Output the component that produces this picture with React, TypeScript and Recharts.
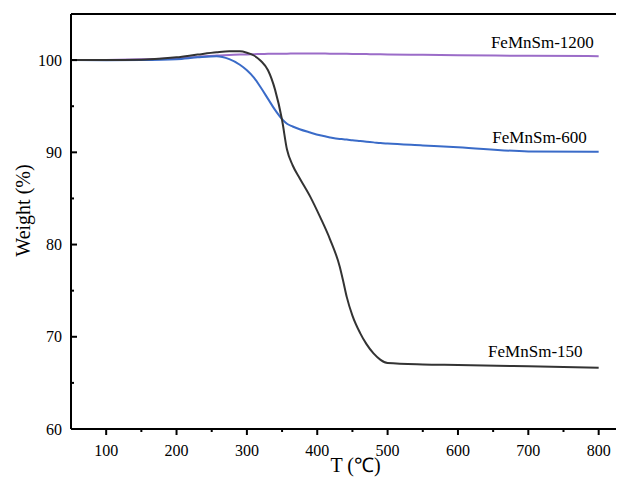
import React from 'react';
import { LineChart, Line, XAxis, YAxis, ReferenceLine, ReferenceDot } from 'recharts';

const temps = [50, 100, 150, 200, 230, 257, 275, 290, 300, 310, 320, 330, 340, 350, 357, 365, 375, 390, 404, 418, 432, 437, 442, 450, 461, 470, 480, 490, 500, 550, 600, 700, 800];
const fe150 = [100.0, 100.0, 100.05, 100.3, 100.6, 100.85, 100.95, 100.95, 100.8, 100.5, 99.9, 98.9, 96.8, 93.5, 90.3, 88.6, 87.2, 85.2, 83.0, 80.6, 77.6, 76.0, 74.3, 72.3, 70.4, 69.2, 68.2, 67.5, 67.15, 67.0, 66.95, 66.8, 66.65];
const fe600 = [100.0, 99.98, 100.0, 100.1, 100.3, 100.42, 100.1, 99.5, 98.9, 98.1, 97.0, 95.8, 94.6, 93.6, 93.1, 92.8, 92.5, 92.15, 91.85, 91.62, 91.45, 91.42, 91.38, 91.3, 91.22, 91.15, 91.08, 91.0, 90.95, 90.75, 90.55, 90.1, 90.05];
const fe1200 = [100.0, 100.02, 100.08, 100.2, 100.35, 100.5, 100.55, 100.6, 100.62, 100.64, 100.66, 100.68, 100.7, 100.7, 100.7, 100.71, 100.72, 100.72, 100.71, 100.7, 100.69, 100.69, 100.68, 100.67, 100.66, 100.65, 100.64, 100.63, 100.62, 100.58, 100.54, 100.46, 100.43];

const xTicks = [100, 150, 200, 250, 300, 350, 400, 450, 500, 550, 600, 650, 700, 750, 800];
const yTicks = [60, 65, 70, 75, 80, 85, 90, 95, 100];

const seriesLabels = [
  { name: 'FeMnSm-1200', t: 720, w: 101.95 },
  { name: 'FeMnSm-600', t: 716, w: 91.66 },
  { name: 'FeMnSm-150', t: 710, w: 68.4 },
];

const data = temps.map((t, i) => ({ t, a: fe150[i], b: fe600[i], c: fe1200[i] }));

const FONT = 'Liberation Serif, Times New Roman, serif';
const textStyle = { fontFamily: FONT, fill: '#000' };

const XTick = (props: any) => {
  const { x, y, payload } = props;
  const major = payload.value % 100 === 0;
  return (
    <g>
      <line x1={x} x2={x} y1={y} y2={y + (major ? 6 : 3)} style={{ stroke: '#000', strokeWidth: 2 }} />
      {major && (
        <text x={x} y={y + 21} textAnchor="middle" dominantBaseline="central" fontSize={16} style={textStyle}>
          {payload.value}
        </text>
      )}
    </g>
  );
};

const YTick = (props: any) => {
  const { x, y, payload } = props;
  const major = payload.value % 10 === 0;
  return (
    <g>
      <line x1={x} x2={x + (major ? 6 : 3)} y1={y} y2={y} style={{ stroke: '#000', strokeWidth: 2 }} />
      {major && (
        <text x={x - 9} y={y} textAnchor="end" dominantBaseline="central" fontSize={16} style={textStyle}>
          {payload.value}
        </text>
      )}
    </g>
  );
};

const YLabel = (props: any) => {
  const vb = props.viewBox;
  const cx = vb.x + 15;
  const cy = vb.y + vb.height / 2 - 11;
  return (
    <text x={cx} y={cy} transform={`rotate(-90 ${cx} ${cy})`} textAnchor="middle" dominantBaseline="central" fontSize={20} style={textStyle}>
      Weight (%)
    </text>
  );
};

const XLabel = (props: any) => {
  const vb = props.viewBox;
  return (
    <text x={vb.x + vb.width / 2 + 8} y={vb.y + 43} textAnchor="middle" fontSize={20} style={textStyle}>
      T (℃)
    </text>
  );
};

export default function App() {
  return (
    <LineChart width={616} height={475} data={data} margin={{ top: 6, right: 0, bottom: 0, left: 0 }}>
      <XAxis
        dataKey="t"
        type="number"
        domain={[50, 836]}
        ticks={xTicks}
        interval={0}
        tick={<XTick />}
        tickLine={false}
        tickSize={0}
        tickMargin={0}
        stroke="#000"
        axisLine={{ stroke: '#000', strokeWidth: 2 }}
        height={54}
        label={XLabel}
      />
      <YAxis
        type="number"
        domain={[60, 105]}
        ticks={yTicks}
        interval={0}
        tick={<YTick />}
        tickLine={false}
        tickSize={0}
        tickMargin={0}
        stroke="#000"
        axisLine={{ stroke: '#000', strokeWidth: 2 }}
        width={63}
        label={YLabel}
      />
      <ReferenceLine y={105} stroke="#000" strokeWidth={2} strokeOpacity={1} />
      <Line type="monotone" dataKey="c" stroke="#9b6cc8" strokeWidth={2} dot={false} isAnimationActive={false} />
      <Line type="monotone" dataKey="b" stroke="#3a6bc8" strokeWidth={2} dot={false} isAnimationActive={false} />
      <Line type="monotone" dataKey="a" stroke="#333333" strokeWidth={2} dot={false} isAnimationActive={false} />
      {seriesLabels.map((s) => (
        <ReferenceDot
          key={s.name}
          x={s.t}
          y={s.w}
          r={0}
          shape={(p: any) => (
            <text x={p.cx} y={p.cy} textAnchor="middle" dominantBaseline="central" fontSize={17} style={textStyle}>
              {s.name}
            </text>
          )}
        />
      ))}
    </LineChart>
  );
}
